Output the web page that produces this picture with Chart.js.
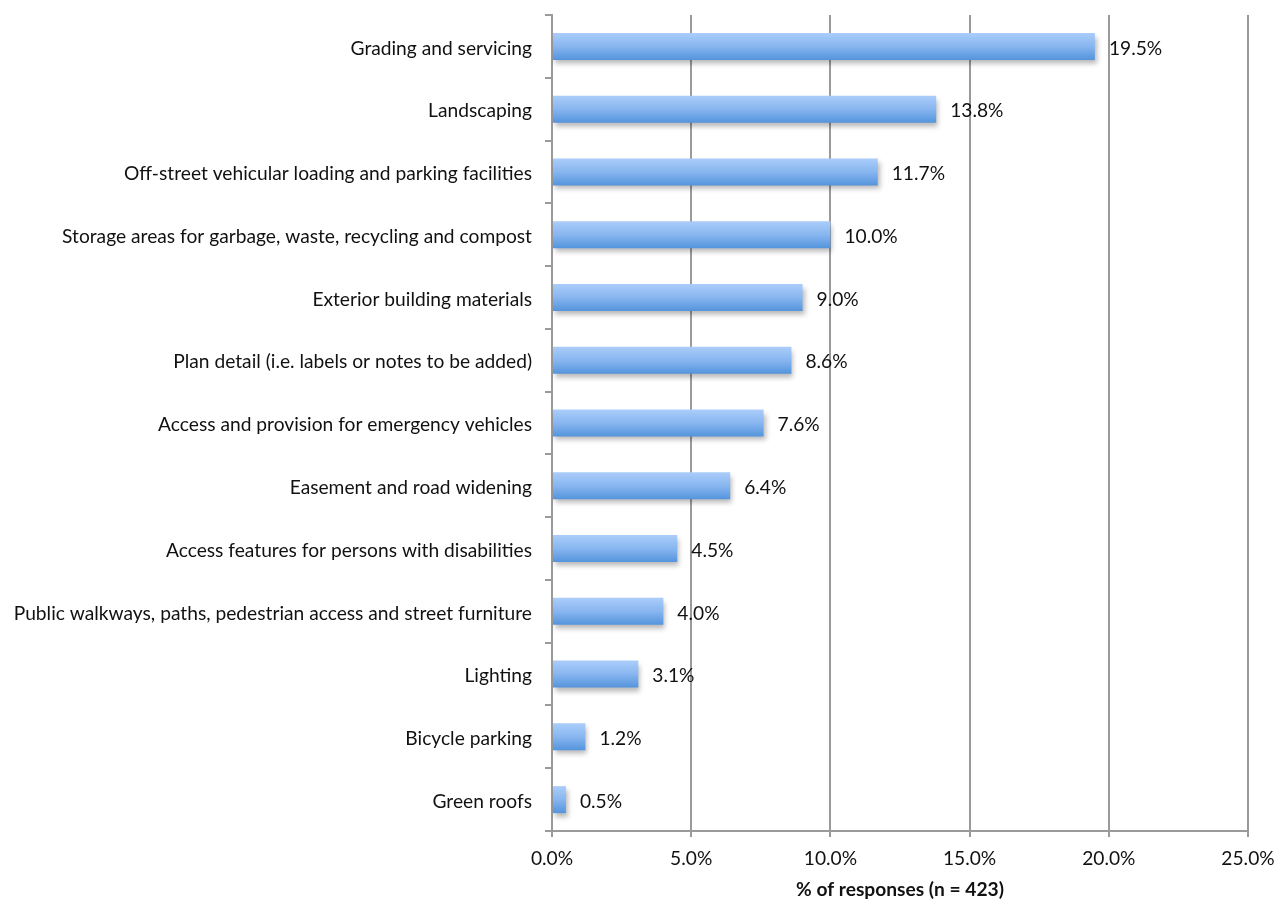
<!DOCTYPE html>
<html>
<head>
<meta charset="utf-8">
<script src="https://cdn.jsdelivr.net/npm/chart.js@4"></script>
<style>
  html, body { margin: 0; padding: 0; background: #fff; }
  #chart { display: block; }
</style>
</head>
<body>
<canvas id="chart" width="1275" height="901"></canvas>
<script>
const categories = [
  'Grading and servicing',
  'Landscaping',
  'Off-street vehicular loading and parking facilities',
  'Storage areas for garbage, waste, recycling and compost',
  'Exterior building materials',
  'Plan detail (i.e. labels or notes to be added)',
  'Access and provision for emergency vehicles',
  'Easement and road widening',
  'Access features for persons with disabilities',
  'Public walkways, paths, pedestrian access and street furniture',
  'Lighting',
  'Bicycle parking',
  'Green roofs'
];
const shares = [19.5, 13.8, 11.7, 10.0, 9.0, 8.6, 7.6, 6.4, 4.5, 4.0, 3.1, 1.2, 0.5];
const xTicks = [0, 5, 10, 15, 20, 25];
const axisTitle = '% of responses (n = 423)';

const FONT = 'Lato, "Open Sans", sans-serif';
const FSIZE = 19.2;
const GRID = '#9a9a9a';
const BAR_PCT = 0.43;

// vertical gradient per bar, light on top, deeper blue at the bottom
function barFill(ctx) {
  const chart = ctx.chart;
  const y = chart.scales.y;
  if (!chart.chartArea || !y) return '#7fb0ec';
  const c = y.getPixelForValue(ctx.dataIndex);
  const half = (y.height / categories.length) * BAR_PCT / 2;
  const g = chart.ctx.createLinearGradient(0, c - half, 0, c + half);
  g.addColorStop(0, '#abcdfa');
  g.addColorStop(0.5, '#88b6f0');
  g.addColorStop(1, '#5494dc');
  return g;
}

// soft drop shadow under the bars, then value labels at the bar ends
const barDecor = {
  id: 'barDecor',
  beforeDatasetsDraw(chart) {
    const c = chart.ctx;
    c.save();
    c.shadowColor = 'rgba(0,0,0,0.28)';
    c.shadowBlur = 5;
    c.shadowOffsetX = 2;
    c.shadowOffsetY = 4;
  },
  afterDatasetsDraw(chart) {
    const c = chart.ctx;
    c.restore();
    const meta = chart.getDatasetMeta(0);
    c.save();
    c.font = FSIZE + 'px ' + FONT;
    c.fillStyle = '#111';
    c.textAlign = 'left';
    c.textBaseline = 'middle';
    meta.data.forEach((bar, i) => {
      c.fillText(shares[i].toFixed(1) + '%', bar.x + 14, bar.y + 2);
    });
    c.restore();
  }
};

// keep the plot box where the layout padding puts it (no label overflow room)
function noOverflow(scale) {
  scale.paddingLeft = 0;
  scale.paddingRight = 0;
  scale.paddingTop = 0;
  scale.paddingBottom = 0;
}

new Chart(document.getElementById('chart'), {
  type: 'bar',
  data: {
    labels: categories,
    datasets: [{
      data: shares,
      backgroundColor: barFill,
      borderWidth: 0,
      barPercentage: BAR_PCT,
      categoryPercentage: 1
    }]
  },
  options: {
    indexAxis: 'y',
    responsive: false,
    devicePixelRatio: 1,
    animation: false,
    layout: { padding: { top: 15, right: 27, left: 0, bottom: 0 } },
    plugins: {
      legend: { display: false },
      tooltip: { enabled: false }
    },
    scales: {
      x: {
        min: 0,
        max: 25,
        afterBuildTicks(scale) { scale.ticks = xTicks.map(v => ({ value: v })); },
        afterFit(scale) { scale.height = 70; noOverflow(scale); },
        ticks: {
          color: '#111',
          font: { family: FONT, size: FSIZE },
          padding: 10,
          maxRotation: 0,
          callback: v => Number(v).toFixed(1) + '%'
        },
        grid: { color: GRID, lineWidth: 2, tickLength: 6, drawOnChartArea: true },
        border: { color: GRID, width: 2 },
        title: {
          display: true,
          text: axisTitle,
          color: '#111',
          font: { family: FONT, size: 19.2, weight: 'bold' },
          padding: { top: 3, bottom: 0 }
        }
      },
      y: {
        afterFit(scale) { scale.width = 552; noOverflow(scale); },
        ticks: {
          color: '#111',
          font: { family: FONT, size: FSIZE },
          padding: 13,
          autoSkip: false,
          labelOffset: 2
        },
        grid: { color: GRID, lineWidth: 2, tickLength: 7, drawOnChartArea: false, offset: true },
        border: { color: GRID, width: 2 }
      }
    }
  },
  plugins: [barDecor]
});
</script>
</body>
</html>
